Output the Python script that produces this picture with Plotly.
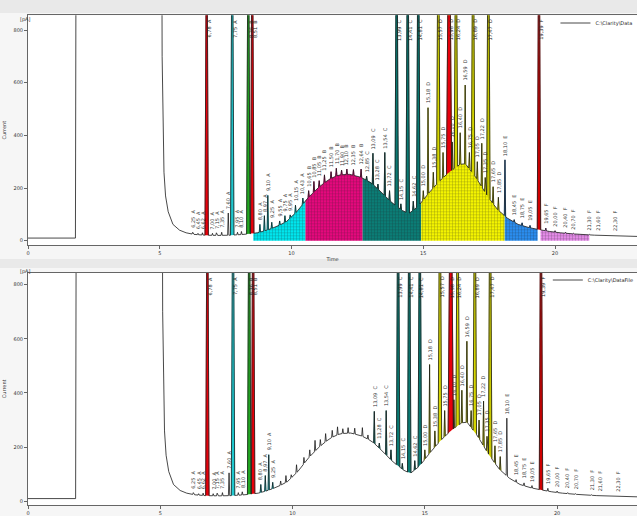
import numpy as np
import plotly.graph_objects as go

# ---------------- data ----------------
# smooth part of the chromatogram (time in min, signal in pA)
base_t = [0.00, 1.80, 1.83, 5.07, 5.09, 5.12, 5.16, 5.22, 5.32, 5.50, 5.75, 6.00, 6.30, 6.70,
          7.20, 7.70, 8.20, 8.70, 9.00, 9.40, 9.80, 10.20, 10.60, 11.00, 11.40, 11.80, 12.20,
          12.60, 13.00, 13.40, 13.80, 14.20, 14.45, 14.80, 15.20, 15.60, 16.00, 16.40, 16.60,
          17.00, 17.40, 17.80, 18.20, 18.60, 19.00, 19.40, 19.80, 20.20, 20.80, 21.50, 22.20, 23.20]
base_y = [10, 10, 1500, 1500, 700, 420, 260, 170, 110, 62, 40, 30, 24, 21,
          20, 21, 24, 30, 38, 52, 72, 110, 160, 200, 232, 250, 252,
          242, 222, 185, 145, 115, 103, 130, 180, 225, 262, 290, 292,
          240, 175, 120, 85, 62, 50, 42, 35, 30, 25, 21, 18, 16]

# small / medium peaks (apex time, apex height)
small_t = [6.25, 6.45, 6.62, 7.00, 7.15, 7.35, 7.60, 7.95, 8.10, 8.80, 8.97, 9.10, 9.25, 9.55,
           9.75, 9.95, 10.15, 10.43, 10.65, 10.85, 11.05, 11.25, 11.50, 11.70, 11.90, 12.10,
           12.35, 12.64, 12.85, 13.09, 13.28, 13.54, 13.72, 14.15, 14.62, 15.00, 15.18, 15.38,
           15.75, 16.10, 16.40, 16.59, 16.75, 17.05, 17.22, 17.35, 17.65, 17.85, 18.10, 18.45,
           18.75, 19.05, 19.65, 20.00, 20.40, 20.70, 21.30, 21.60, 22.30]
small_h = [32, 28, 30, 28, 30, 32, 105, 32, 35, 62, 95, 172, 70, 75,
           95, 98, 135, 162, 190, 225, 228, 250, 262, 275, 268, 272,
           270, 272, 245, 332, 215, 335, 190, 140, 150, 190, 505, 260,
           335, 375, 410, 591, 335, 300, 370, 240, 205, 165, 307, 80,
           68, 58, 48, 38, 32, 28, 24, 23, 20]

# off-scale peaks
big_t = [6.78, 7.75, 8.36, 8.51, 13.99, 14.41, 14.81, 15.57, 15.98, 16.24, 16.89, 17.47, 19.39]
big_h = [1500] * 13
big_color = ["#e8000b", "#1fc8cf", "#22a822", "#e8000b", "#0a7a73", "#0a7a73", "#0a7a73",
             "#d6d600", "#e8000b", "#d6d600", "#d6d600", "#c9c900", "#d00000"]
big_letter = ["A", "A", "B", "B", "C", "C", "C", "D", "D", "D", "D", "D", "F"]

# integration groups of the upper run
seg_start = [8.55, 10.53, 12.70, 14.92, 18.09, 19.45]
seg_end = [10.53, 12.70, 14.92, 18.09, 19.34, 21.30]
seg_color = ["#00e6ee", "#e5087d", "#0b7d76", "#f4f400", "#2a8def", "#e48be8"]
seg_letter = ["A", "B", "C", "D", "E", "F"]

# part of the lower run that is neither labelled nor integrated
lower_skip = (9.40, 12.95)

legend_names = ["C:\\Clarity\\Data", "C:\\Clarity\\DataFile"]

# ---------------- build the trace ----------------
W_SMALL, W_BIG = 0.025, 0.065
peaks = [(t, h, W_SMALL, None) for t, h in zip(small_t, small_h)]
peaks += [(t, h, (0.1 if t == 15.98 else W_BIG), c) for t, h, c in zip(big_t, big_h, big_color)]

def foot(t):
    return float(np.interp(t, base_t, base_y))

pts = [(t, y) for t, y in zip(base_t, base_y)
       if not any(abs(t - p[0]) <= p[2] + 0.01 for p in peaks)]
for t, h, w, _ in peaks:
    pts += [(t - w, foot(t - w)), (t, h), (t + w, foot(t + w))]
pts.sort()
tx = np.array([p[0] for p in pts])
ty = np.array([p[1] for p in pts])

def seg_index(t):
    for i, (a, b) in enumerate(zip(seg_start, seg_end)):
        if a <= t < b:
            return i
    return None

def in_skip(t):
    return lower_skip[0] <= t <= lower_skip[1]

fig = go.Figure()
panels = [("x", "y"), ("x2", "y2")]

for pi, (xa, ya) in enumerate(panels):
    # filled integration groups (upper run only)
    if pi == 0:
        for a, b, c in zip(seg_start, seg_end, seg_color):
            m = (tx > a) & (tx < b)
            xs = [a] + list(tx[m]) + [b]
            ys = [float(np.interp(a, tx, ty))] + list(ty[m]) + [float(np.interp(b, tx, ty))]
            fig.add_trace(go.Scatter(x=xs, y=ys, xaxis=xa, yaxis=ya, mode="lines",
                                     line=dict(width=0), fill="tozeroy", fillcolor=c,
                                     fillpattern=dict(shape="+", size=3, solidity=0.2,
                                                      fgcolor="rgba(30,30,30,0.55)",
                                                      bgcolor=c, fillmode="replace"),
                                     showlegend=False, hoverinfo="skip"))
    # coloured peaks
    groups = {}
    for t, h, w, c in peaks:
        if c is None:
            si = seg_index(t)
            if si is None:
                continue
            if pi == 1 and (si in (1, 4, 5) or in_skip(t)):
                continue
            c = seg_color[si] if pi == 0 else {0: "#14c8d2", 2: "#0b7d76", 3: "#d8d800"}[si]
        g = groups.setdefault(c, ([], []))
        g[0].extend([t - w, t, t + w, None])
        g[1].extend([foot(t - w), h, foot(t + w), None])
    for c, (gx, gy) in groups.items():
        fig.add_trace(go.Scatter(x=gx, y=gy, xaxis=xa, yaxis=ya, mode="lines",
                                 line=dict(width=0.6, color=c), fill="toself", fillcolor=c,
                                 showlegend=False, hoverinfo="skip"))
    # chromatogram line
    fig.add_trace(go.Scatter(x=tx, y=ty, xaxis=xa, yaxis=ya, mode="lines",
                             line=dict(color="#1a1a1a", width=0.8),
                             name=legend_names[pi], legend="legend" if pi == 0 else "legend2",
                             showlegend=True))

# ---------------- peak labels ----------------
def lab(t, letter):
    return f"{t:.2f}".replace(".", ",") + "  " + letter

ann = []
for pi, (xa, ya) in enumerate(panels):
    ytop = 855 if pi == 0 else 844
    for t, h in zip(small_t, small_h):
        si = seg_index(t)
        if pi == 1 and in_skip(t):
            continue
        letter = seg_letter[si] if si is not None else ("A" if t < 9 else "F")
        ann.append(dict(x=t, y=h + 8, xref=xa, yref=ya, text=lab(t, letter), textangle=-90,
                        showarrow=False, yanchor="bottom", xanchor="center",
                        font=dict(size=5, color="#333")))
    for t, l in zip(big_t, big_letter):
        ann.append(dict(x=t + 0.08, y=ytop - 8, xref=xa, yref=ya, text=lab(t, l), textangle=-90,
                        showarrow=False, yanchor="top", xanchor="center",
                        font=dict(size=5, color="#222")))

# unit labels
ann.append(dict(x=18 / 637, y=1 - 14 / 516, xref="paper", yref="paper", text="[pA]",
                showarrow=False, font=dict(size=5, color="#333")))
ann.append(dict(x=18 / 637, y=1 - 271 / 516, xref="paper", yref="paper", text="[pA]",
                showarrow=False, font=dict(size=5, color="#333")))

# ---------------- layout ----------------
axis_common = dict(showline=True, mirror=True, linecolor="#666", linewidth=1, ticks="outside",
                   ticklen=3, tickcolor="#666", tickfont=dict(size=5, color="#333"),
                   showgrid=False, zeroline=False, automargin=False)

x0 = 28 / 637
fig.update_layout(
    width=637, height=516, margin=dict(l=0, r=0, t=0, b=0, autoexpand=False),
    paper_bgcolor="#f6f6f6", plot_bgcolor="white", template="none",
    font=dict(family="DejaVu Sans", size=5, color="#333"),
    xaxis=dict(domain=[x0, 1], range=[0, 23.11], dtick=5, anchor="y",
               title=dict(text="Time", font=dict(size=5), standoff=2), **axis_common),
    yaxis=dict(domain=[1 - 245 / 516, 1 - 15.3 / 516], range=[-16.3, 855.8], tickvals=[0, 200, 400, 600, 800],
               anchor="x", title=dict(text="Current", font=dict(size=5), standoff=6), **axis_common),
    xaxis2=dict(domain=[x0, 1], range=[0, 23.02], dtick=5, anchor="y2", **axis_common),
    yaxis2=dict(domain=[1 - 505 / 516, 1 - 272.7 / 516], range=[-13.7, 844.3], tickvals=[0, 200, 400, 600, 800],
                anchor="x2", title=dict(text="Current", font=dict(size=5), standoff=6), **axis_common),
    legend=dict(x=0.872, y=1 - 23 / 516, xanchor="left", yanchor="middle", bgcolor="rgba(0,0,0,0)",
                font=dict(size=5, color="#222"), itemwidth=30),
    legend2=dict(x=0.86, y=1 - 280 / 516, xanchor="left", yanchor="middle", bgcolor="rgba(0,0,0,0)",
                 font=dict(size=5, color="#222"), itemwidth=30),
    annotations=ann,
    shapes=[
        dict(type="rect", xref="paper", yref="paper", x0=0, x1=1, y0=1 - 13 / 516, y1=1,
             fillcolor="#e9e9e9", line=dict(width=0), layer="below"),
        dict(type="rect", xref="paper", yref="paper", x0=0, x1=1, y0=1 - 268 / 516, y1=1 - 259 / 516,
             fillcolor="#e9e9e9", line=dict(width=0), layer="below"),
    ],
)

fig.write_html("out.html", config={"displayModeBar": False},
               post_script="document.body.style.margin='0px';document.body.style.overflow='hidden';")
